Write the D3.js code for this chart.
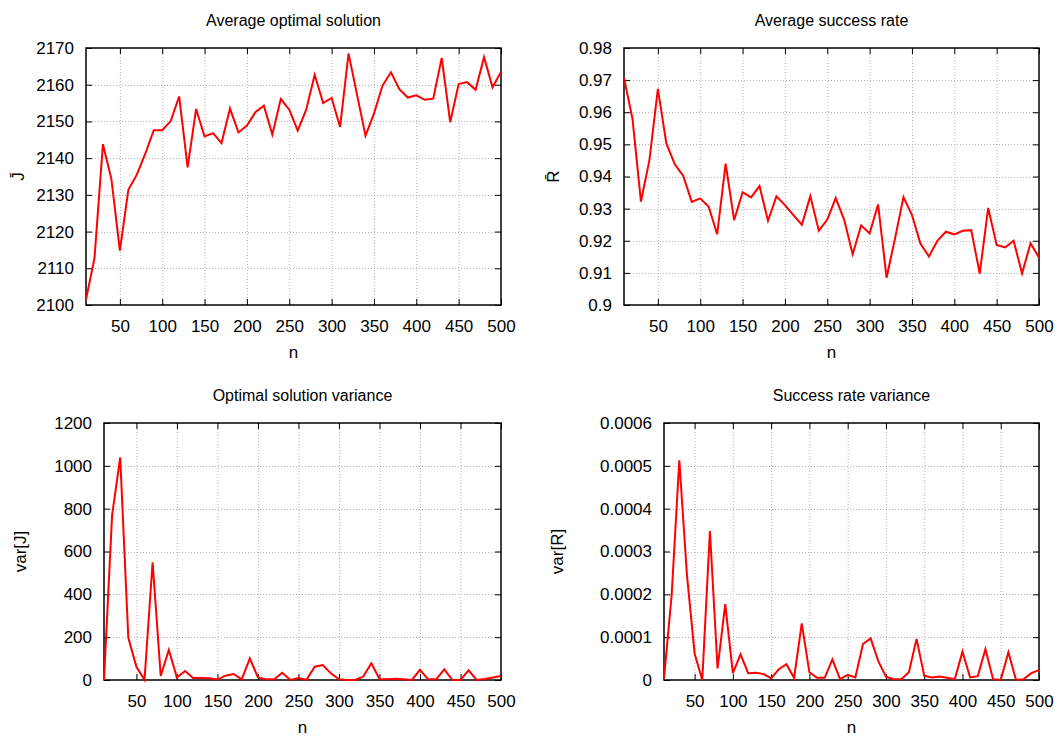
<!DOCTYPE html>
<html>
<head>
<meta charset="utf-8">
<script src="https://cdn.jsdelivr.net/npm/d3@7"></script>
<style>
  html, body { margin: 0; padding: 0; background: #fff; }
  svg { display: block; font-family: "Liberation Sans", Arial, sans-serif; }
</style>
</head>
<body>
<svg id="chart" width="1059" height="736"></svg>
<script>
// Problem sizes n
const nValues = [10, 20, 30, 40, 50, 60, 70, 80, 90, 100,
  110, 120, 130, 140, 150, 160, 170, 180, 190, 200,
  210, 220, 230, 240, 250, 260, 270, 280, 290, 300,
  310, 320, 330, 340, 350, 360, 370, 380, 390, 400,
  410, 420, 430, 440, 450, 460, 470, 480, 490, 500];

// Average optimal solution J̄
const avgOptimal = [2101.5, 2112.7, 2143.8, 2134.3, 2114.8, 2131.4, 2135.5, 2141.2, 2147.6, 2147.6,
  2150.1, 2156.8, 2137.5, 2153.4, 2145.9, 2146.8, 2144.1, 2153.5, 2147.0, 2148.9,
  2152.5, 2154.3, 2146.4, 2156.1, 2153.2, 2147.5, 2153.2, 2162.7, 2155.0, 2156.4,
  2148.5, 2168.5, 2157.3, 2146.1, 2152.1, 2159.7, 2163.4, 2158.8, 2156.5, 2157.1,
  2155.9, 2156.2, 2167.3, 2149.8, 2160.2, 2160.7, 2158.6, 2167.5, 2159.3, 2163.5];

// Average success rate R̄
const avgSuccess = [0.9707, 0.9580, 0.9322, 0.9451, 0.9673, 0.9503, 0.9438, 0.9402, 0.9321, 0.9332,
  0.9306, 0.9220, 0.9440, 0.9264, 0.9351, 0.9335, 0.9370, 0.9262, 0.9338, 0.9311,
  0.9280, 0.9250, 0.9339, 0.9231, 0.9266, 0.9333, 0.9265, 0.9158, 0.9248, 0.9223,
  0.9313, 0.9085, 0.9207, 0.9336, 0.9280, 0.9191, 0.9151, 0.9200, 0.9228, 0.9220,
  0.9231, 0.9233, 0.9098, 0.9302, 0.9187, 0.9179, 0.9200, 0.9098, 0.9192, 0.9148];

// Variance of the optimal solution var[J]
const varOptimal = [0, 770, 1039, 197, 62, 1, 550, 19, 140, 12,
  42, 9, 9, 8, 2, 20, 28, 3, 101, 12,
  3, 3, 34, 0, 9, 1, 62, 70, 31, 3,
  0, 0, 16, 78, 5, 3, 6, 3, 0, 47,
  3, 3, 50, 0, 0, 45, 0, 5, 12, 19];

// Variance of the success rate var[R]
const varSuccess = [0.000004, 0.000198, 0.000513, 0.000245, 0.000062, 0.000000, 0.000348, 0.000027, 0.000177, 0.000016,
  0.000060, 0.000016, 0.000017, 0.000014, 0.000004, 0.000025, 0.000037, 0.000005, 0.000132, 0.000018,
  0.000005, 0.000005, 0.000048, 0.000002, 0.000012, 0.000006, 0.000084, 0.000097, 0.000044, 0.000008,
  0.000002, 0.000002, 0.000018, 0.000096, 0.000010, 0.000006, 0.000008, 0.000005, 0.000002, 0.000066,
  0.000006, 0.000009, 0.000072, 0.000002, 0.000000, 0.000065, 0.000000, 0.000002, 0.000016, 0.000023];

// Axis ticks
const xTicks = [50, 100, 150, 200, 250, 300, 350, 400, 450, 500];
const yTicksOptimal = [2100, 2110, 2120, 2130, 2140, 2150, 2160, 2170];
const yTicksSuccess = [0.9, 0.91, 0.92, 0.93, 0.94, 0.95, 0.96, 0.97, 0.98];
const yTicksVarOptimal = [0, 200, 400, 600, 800, 1000, 1200];
const yTicksVarSuccess = [0, 0.0001, 0.0002, 0.0003, 0.0004, 0.0005, 0.0006];
const yTickLabelsVarSuccess = ["0", "0.0001", "0.0002", "0.0003", "0.0004", "0.0005", "0.0006"];

const titles = ["Average optimal solution", "Average success rate",
                "Optimal solution variance", "Success rate variance"];
const yLabels = ["J\u0304", "R\u0304", "var[J]", "var[R]"];

const panels = [
  { title: titles[0], ylabel: yLabels[0], values: avgOptimal, yDomain: [2100, 2170],
    yTicks: yTicksOptimal, fmt: d3.format("d"),
    box: { x0: 86, x1: 501, y0: 48, y1: 305 }, ylabelX: 18 },
  { title: titles[1], ylabel: yLabels[1], values: avgSuccess, yDomain: [0.9, 0.98],
    yTicks: yTicksSuccess, fmt: d => (d === 0.9 ? "0.9" : d3.format(".2f")(d)),
    box: { x0: 624, x1: 1039, y0: 48, y1: 305 }, ylabelX: 553 },
  { title: titles[2], ylabel: yLabels[2], values: varOptimal, yDomain: [0, 1200],
    yTicks: yTicksVarOptimal, fmt: d3.format("d"),
    box: { x0: 104, x1: 501, y0: 423, y1: 680 }, ylabelX: 20 },
  { title: titles[3], ylabel: yLabels[3], values: varSuccess, yDomain: [0, 0.0006],
    yTicks: yTicksVarSuccess, fmt: (d, i) => yTickLabelsVarSuccess[i],
    box: { x0: 664, x1: 1039, y0: 423, y1: 680 }, ylabelX: 557 }
];

const svg = d3.select("#chart");
svg.append("rect").attr("width", 1059).attr("height", 736).attr("fill", "#fff");

const FONT = 17;
const TICK = 6;

panels.forEach(p => {
  const b = p.box;
  const x = d3.scaleLinear().domain([10, 500]).range([b.x0, b.x1]);
  const y = d3.scaleLinear().domain(p.yDomain).range([b.y1, b.y0]);
  const g = svg.append("g");

  // dotted grid
  const grid = g.append("g").attr("stroke", "#b4b4b4").attr("stroke-width", 1)
    .attr("stroke-dasharray", "1,2");
  grid.selectAll("line.gx").data(xTicks.filter(t => t < 500)).enter().append("line")
    .attr("x1", d => x(d) + 0.5).attr("x2", d => x(d) + 0.5)
    .attr("y1", b.y0).attr("y2", b.y1);
  grid.selectAll("line.gy").data(p.yTicks.slice(1, -1)).enter().append("line")
    .attr("y1", d => Math.round(y(d)) + 0.5).attr("y2", d => Math.round(y(d)) + 0.5)
    .attr("x1", b.x0).attr("x2", b.x1);

  // bottom and left axes with inward ticks, mirrored on top and right
  const xAxis = d3.axisBottom(x).tickValues(xTicks).tickSize(-TICK).tickPadding(TICK + 9);
  const xTop = d3.axisTop(x).tickValues(xTicks).tickSize(-TICK).tickFormat("");
  const yAxis = d3.axisLeft(y).tickValues(p.yTicks).tickSize(-TICK).tickPadding(TICK + 6)
    .tickFormat(p.fmt);
  const yRight = d3.axisRight(y).tickValues(p.yTicks).tickSize(-TICK).tickFormat("");

  const styleAxis = sel => {
    sel.select(".domain").remove();
    sel.selectAll(".tick line").attr("stroke", "#000").attr("stroke-width", 1);
    sel.selectAll(".tick text").attr("fill", "#000").attr("font-size", FONT)
      .attr("font-family", "Liberation Sans, Arial, sans-serif");
  };

  g.append("g").attr("transform", `translate(0,${b.y1})`).call(xAxis).call(styleAxis);
  g.append("g").attr("transform", `translate(0,${b.y0})`).call(xTop).call(styleAxis);
  g.append("g").attr("transform", `translate(${b.x0},0)`).call(yAxis).call(styleAxis);
  g.append("g").attr("transform", `translate(${b.x1},0)`).call(yRight).call(styleAxis);

  // frame
  g.append("rect").attr("x", b.x0).attr("y", b.y0)
    .attr("width", b.x1 - b.x0).attr("height", b.y1 - b.y0)
    .attr("fill", "none").attr("stroke", "#000").attr("stroke-width", 1.5);

  // data line
  const line = d3.line().x((d, i) => x(nValues[i])).y(d => y(d));
  g.append("path").datum(p.values).attr("d", line)
    .attr("fill", "none").attr("stroke", "#ff0000").attr("stroke-width", 2)
    .attr("stroke-linejoin", "miter");

  // title
  g.append("text").attr("x", (b.x0 + b.x1) / 2).attr("y", b.y0 - 22)
    .attr("text-anchor", "middle").attr("font-size", 16).attr("fill", "#000")
    .text(p.title);

  // x label
  g.append("text").attr("x", (b.x0 + b.x1) / 2).attr("y", b.y1 + 53)
    .attr("text-anchor", "middle").attr("font-size", FONT).attr("fill", "#000")
    .text("n");

  // y label (rotated)
  const cy = (b.y0 + b.y1) / 2;
  g.append("text").attr("transform", `translate(${p.ylabelX + 6},${cy}) rotate(-90)`)
    .attr("text-anchor", "middle").attr("font-size", FONT).attr("fill", "#000")
    .text(p.ylabel);
});
</script>
</body>
</html>
